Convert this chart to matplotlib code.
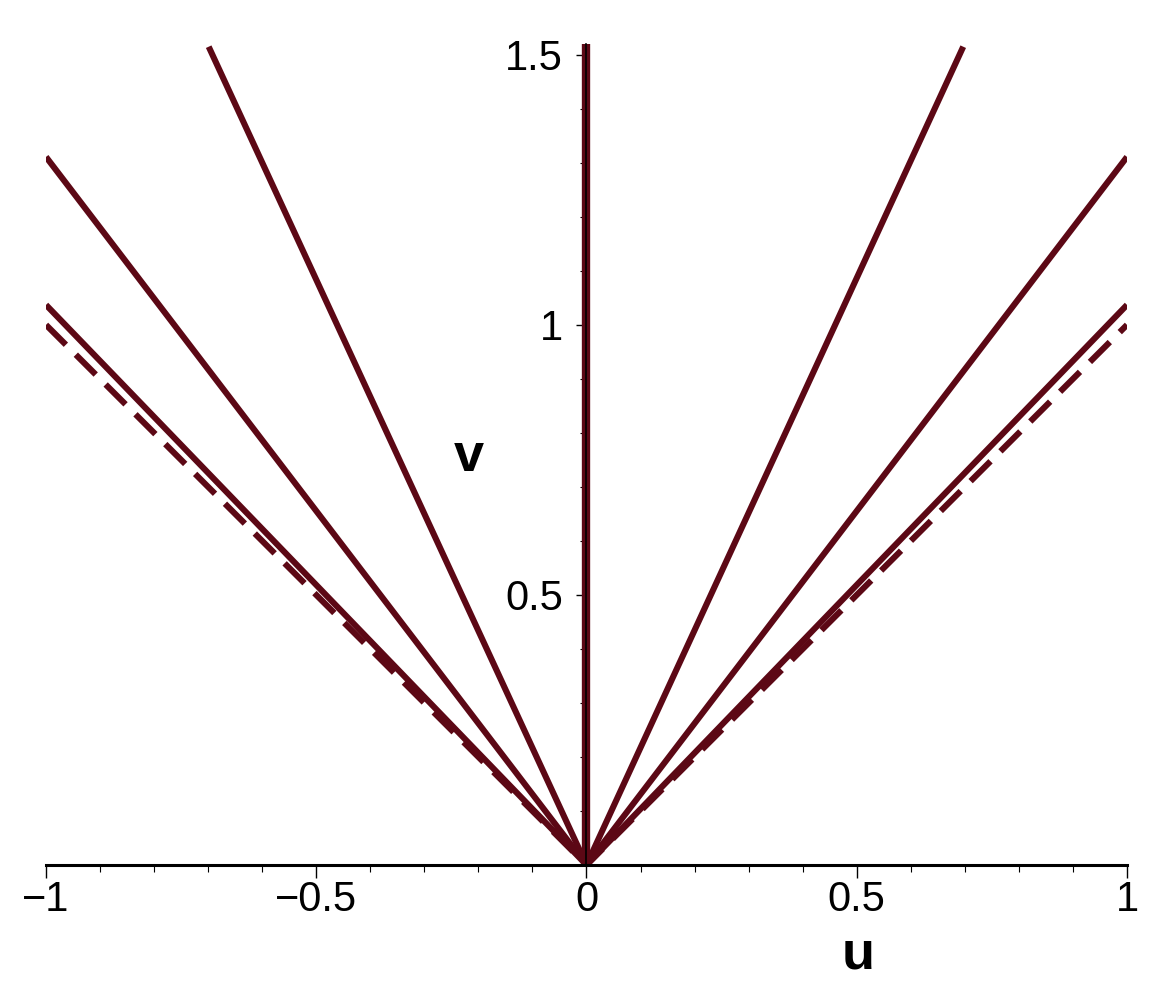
import numpy as np
import matplotlib.pyplot as plt
from matplotlib.ticker import MultipleLocator

plt.rcParams['font.family'] = ['Liberation Sans', 'DejaVu Sans']

# curves through the origin: (u endpoints, v endpoints)
u_steep = [-0.699, 0.0, 0.697]
v_steep = [1.515, 0.0, 1.515]
u_mid = [-1.0, 0.0, 1.0]
v_mid = [1.311, 0.0, 1.311]
u_low = [-1.0, 0.0, 1.0]
v_low = [1.037, 0.0, 1.037]
u_dash = [-1.0, 0.0, 1.0]
v_dash = [1.0, 0.0, 1.0]
u_vert = [0.0, 0.0]
v_vert = [0.0, 1.52]

xticks = [-1, -0.5, 0, 0.5, 1]
xticklabels = ['\u22121', '\u22120.5', '0', '0.5', '1']
yticks = [0.5, 1, 1.5]
yticklabels = ['0.5', '1', '1.5']

col = '#5c0815'

fig = plt.figure(figsize=(11.56, 10), dpi=100)
ax = fig.add_axes([46 / 1156, 0.135, (1127 - 46) / 1156, 0.821])

ax.plot(u_steep, v_steep, color=col, lw=4.4, solid_capstyle='butt')
ax.plot(u_mid, v_mid, color=col, lw=4.4, solid_capstyle='butt')
ax.plot(u_low, v_low, color=col, lw=4.4, solid_capstyle='butt')
ax.plot(u_dash, v_dash, color=col, lw=4.4, dashes=(4.6, 2.3), dash_capstyle='butt')
ax.plot(u_vert, v_vert, color=col, lw=6.0, solid_capstyle='butt')

ax.set_xlim(-1, 1)
ax.set_ylim(0, 1.52)

ax.spines['left'].set_position(('data', 0))
ax.spines['bottom'].set_position(('data', 0))
ax.spines['top'].set_visible(False)
ax.spines['right'].set_visible(False)
ax.spines['bottom'].set_linewidth(2.2)
ax.spines['left'].set_linewidth(1.2)

ax.set_xticks(xticks)
ax.set_xticklabels(xticklabels, fontsize=30)
ax.set_yticks(yticks)
ax.set_yticklabels(yticklabels, fontsize=30)
ax.xaxis.set_minor_locator(MultipleLocator(0.1))
ax.yaxis.set_minor_locator(MultipleLocator(0.1))
ax.tick_params(axis='x', which='major', direction='out', length=9, width=1.0, pad=2)
ax.tick_params(axis='x', which='minor', direction='out', length=5, width=0.8)
ax.tick_params(axis='y', which='major', direction='out', length=7, width=1.0, pad=10)
ax.tick_params(axis='y', which='minor', direction='out', length=4, width=0.8)

ax.text(0.502, -0.165, 'u', fontsize=39, fontweight='bold', ha='center', va='center')
ax.text(-0.218, 0.755, 'v', fontsize=39, fontweight='bold', ha='center', va='center')

fig.savefig('out.png', dpi=100)
